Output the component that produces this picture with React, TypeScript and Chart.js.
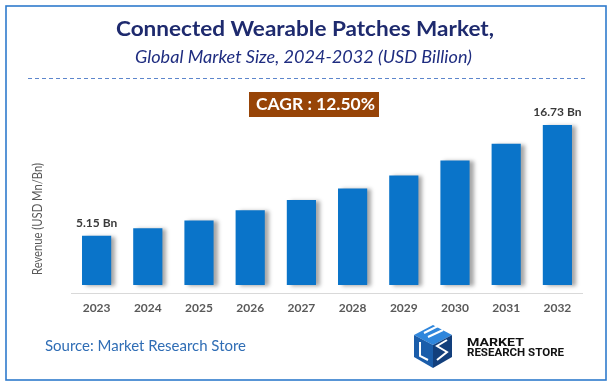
import React, { useEffect, useRef } from "react";
import { Chart, registerables } from "chart.js";

Chart.register(...registerables);

const years = ["2023", "2024", "2025", "2026", "2027", "2028", "2029", "2030", "2031", "2032"];
const revenue = [5.15, 5.92, 6.75, 7.8, 8.88, 10.1, 11.46, 13.03, 14.77, 16.73];
const valueLabels = ["5.15 Bn", "", "", "", "", "", "", "", "", "16.73 Bn"];
const titleText = "Connected Wearable Patches Market,";
const subtitleText = "Global Market Size, 2024-2032 (USD Billion)";
const cagrText = "CAGR : 12.50%";
const sourceText = "Source: Market Research Store";
const axisTitle = "Revenue (USD Mn/Bn)";
const logoLines = ["MARKET", "RESEARCH STORE"];

const FONT = "Lato, 'Open Sans', sans-serif";

function fitText(ctx: CanvasRenderingContext2D, text: string, x: number, y: number, width: number) {
  const w = ctx.measureText(text).width;
  ctx.save();
  ctx.translate(x, y);
  ctx.scale(width / w, 1);
  ctx.fillText(text, 0, 0);
  ctx.restore();
}

const decorPlugin = {
  id: "decor",
  beforeDraw(chart: any) {
    const ctx: CanvasRenderingContext2D = chart.ctx;
    const W = chart.width;
    ctx.save();
    ctx.fillStyle = "#ffffff";
    ctx.fillRect(0, 0, W, chart.height);
    // border
    ctx.strokeStyle = "#2f7bcc";
    ctx.lineWidth = 1.6;
    ctx.strokeRect(6, 6, 600, 374);
    // title
    ctx.textAlign = "left";
    ctx.textBaseline = "alphabetic";
    ctx.fillStyle = "#1e2a6e";
    ctx.font = `bold 21px ${FONT}`;
    fitText(ctx, titleText, 116, 36, 378);
    ctx.fillStyle = "#1f2d80";
    ctx.font = `italic 17px ${FONT}`;
    fitText(ctx, subtitleText, 135, 63, 337);
    // dashed line
    ctx.strokeStyle = "#5d86cc";
    ctx.lineWidth = 1;
    ctx.setLineDash([4, 3]);
    ctx.beginPath();
    ctx.moveTo(28, 78.5);
    ctx.lineTo(588, 78.5);
    ctx.stroke();
    ctx.setLineDash([]);
    // CAGR box
    ctx.fillStyle = "#974407";
    ctx.fillRect(249, 92, 130, 25);
    ctx.fillStyle = "#ffffff";
    ctx.font = `bold 17px ${FONT}`;
    ctx.textBaseline = "middle";
    fitText(ctx, cagrText, 256, 105, 119);
    // source
    ctx.fillStyle = "#2f6db5";
    ctx.font = `15px ${FONT}`;
    fitText(ctx, sourceText, 45, 346, 201);
    // axis title
    ctx.save();
    ctx.translate(38, 275);
    ctx.rotate(-Math.PI / 2);
    ctx.fillStyle = "#595959";
    ctx.font = `13px ${FONT}`;
    ctx.textAlign = "left";
    fitText(ctx, axisTitle, 0, 0, 112);
    ctx.restore();
    // logo cube
    const cx = 433;
    const top = [cx, 325], r = [452, 335], c = [cx, 345], l = [414, 335];
    const lb = [414, 357], b = [cx, 368], rb = [452, 357];
    const poly = (pts: number[][], color: string) => {
      ctx.fillStyle = color;
      ctx.beginPath();
      ctx.moveTo(pts[0][0], pts[0][1]);
      for (let i = 1; i < pts.length; i++) ctx.lineTo(pts[i][0], pts[i][1]);
      ctx.closePath();
      ctx.fill();
    };
    poly([top, r, c, l], "#2f86dc");
    poly([l, c, b, lb], "#1a5daa");
    poly([r, rb, b, c], "#123f7c");
    ctx.strokeStyle = "#ffffff";
    ctx.lineWidth = 2;
    ctx.beginPath();
    ctx.moveTo(424, 333); ctx.lineTo(438, 326);
    ctx.moveTo(428, 337); ctx.lineTo(443, 330);
    ctx.moveTo(420, 342); ctx.lineTo(420, 356); ctx.lineTo(428, 360);
    ctx.moveTo(447, 340); ctx.lineTo(437, 346); ctx.lineTo(447, 352); ctx.lineTo(437, 360);
    ctx.stroke();
    // logo text
    ctx.fillStyle = "#111111";
    ctx.font = `bold 11px Roboto, sans-serif`;
    ctx.textBaseline = "alphabetic";
    fitText(ctx, logoLines[0], 467, 345.5, 57);
    fitText(ctx, logoLines[1], 467, 356, 97);
    ctx.restore();
  },
  beforeDatasetsDraw(chart: any) {
    const ctx = chart.ctx;
    ctx.save();
    ctx.shadowColor = "rgba(0,0,0,0.35)";
    ctx.shadowOffsetX = 4;
    ctx.shadowOffsetY = 1;
    ctx.shadowBlur = 4;
  },
  afterDatasetsDraw(chart: any) {
    const ctx: CanvasRenderingContext2D = chart.ctx;
    ctx.restore();
    const area = chart.chartArea;
    ctx.save();
    ctx.strokeStyle = "#d9d9d9";
    ctx.lineWidth = 1;
    ctx.beginPath();
    ctx.moveTo(area.left, area.bottom + 0.5);
    ctx.lineTo(area.right, area.bottom + 0.5);
    ctx.stroke();
    const meta = chart.getDatasetMeta(0);
    ctx.fillStyle = "#3a3a3a";
    ctx.font = `bold 12px ${FONT}`;
    ctx.textAlign = "center";
    ctx.textBaseline = "middle";
    meta.data.forEach((el: any, i: number) => {
      if (valueLabels[i]) ctx.fillText(valueLabels[i], el.x, el.y - 13);
    });
    ctx.restore();
  },
};

export default function App() {
  const ref = useRef<HTMLCanvasElement | null>(null);
  useEffect(() => {
    document.body.style.margin = "0";
    if (!ref.current) return;
    const chart = new Chart(ref.current, {
      type: "bar",
      data: {
        labels: years,
        datasets: [
          {
            data: revenue,
            backgroundColor: "#0a74c9",
            borderWidth: 0,
            barPercentage: 0.57,
            categoryPercentage: 1,
          },
        ],
      },
      options: {
        responsive: false,
        animation: false,
        layout: { padding: { left: 71, right: 31, top: 100, bottom: 63.6 } },
        plugins: { legend: { display: false }, tooltip: { enabled: false } },
        scales: {
          x: {
            grid: { display: false, drawTicks: false },
            border: { display: false },
            ticks: { color: "#595959", font: { family: FONT, size: 12, weight: "bold" }, padding: 8 },
          },
          y: { display: false, min: -0.85, max: 19.35 },
        },
      },
      plugins: [decorPlugin],
    });
    return () => chart.destroy();
  }, []);
  return (
    <div style={{ position: "fixed", left: 0, top: 0, width: 614, height: 387 }}>
      <canvas ref={ref} width={614} height={387} />
    </div>
  );
}
